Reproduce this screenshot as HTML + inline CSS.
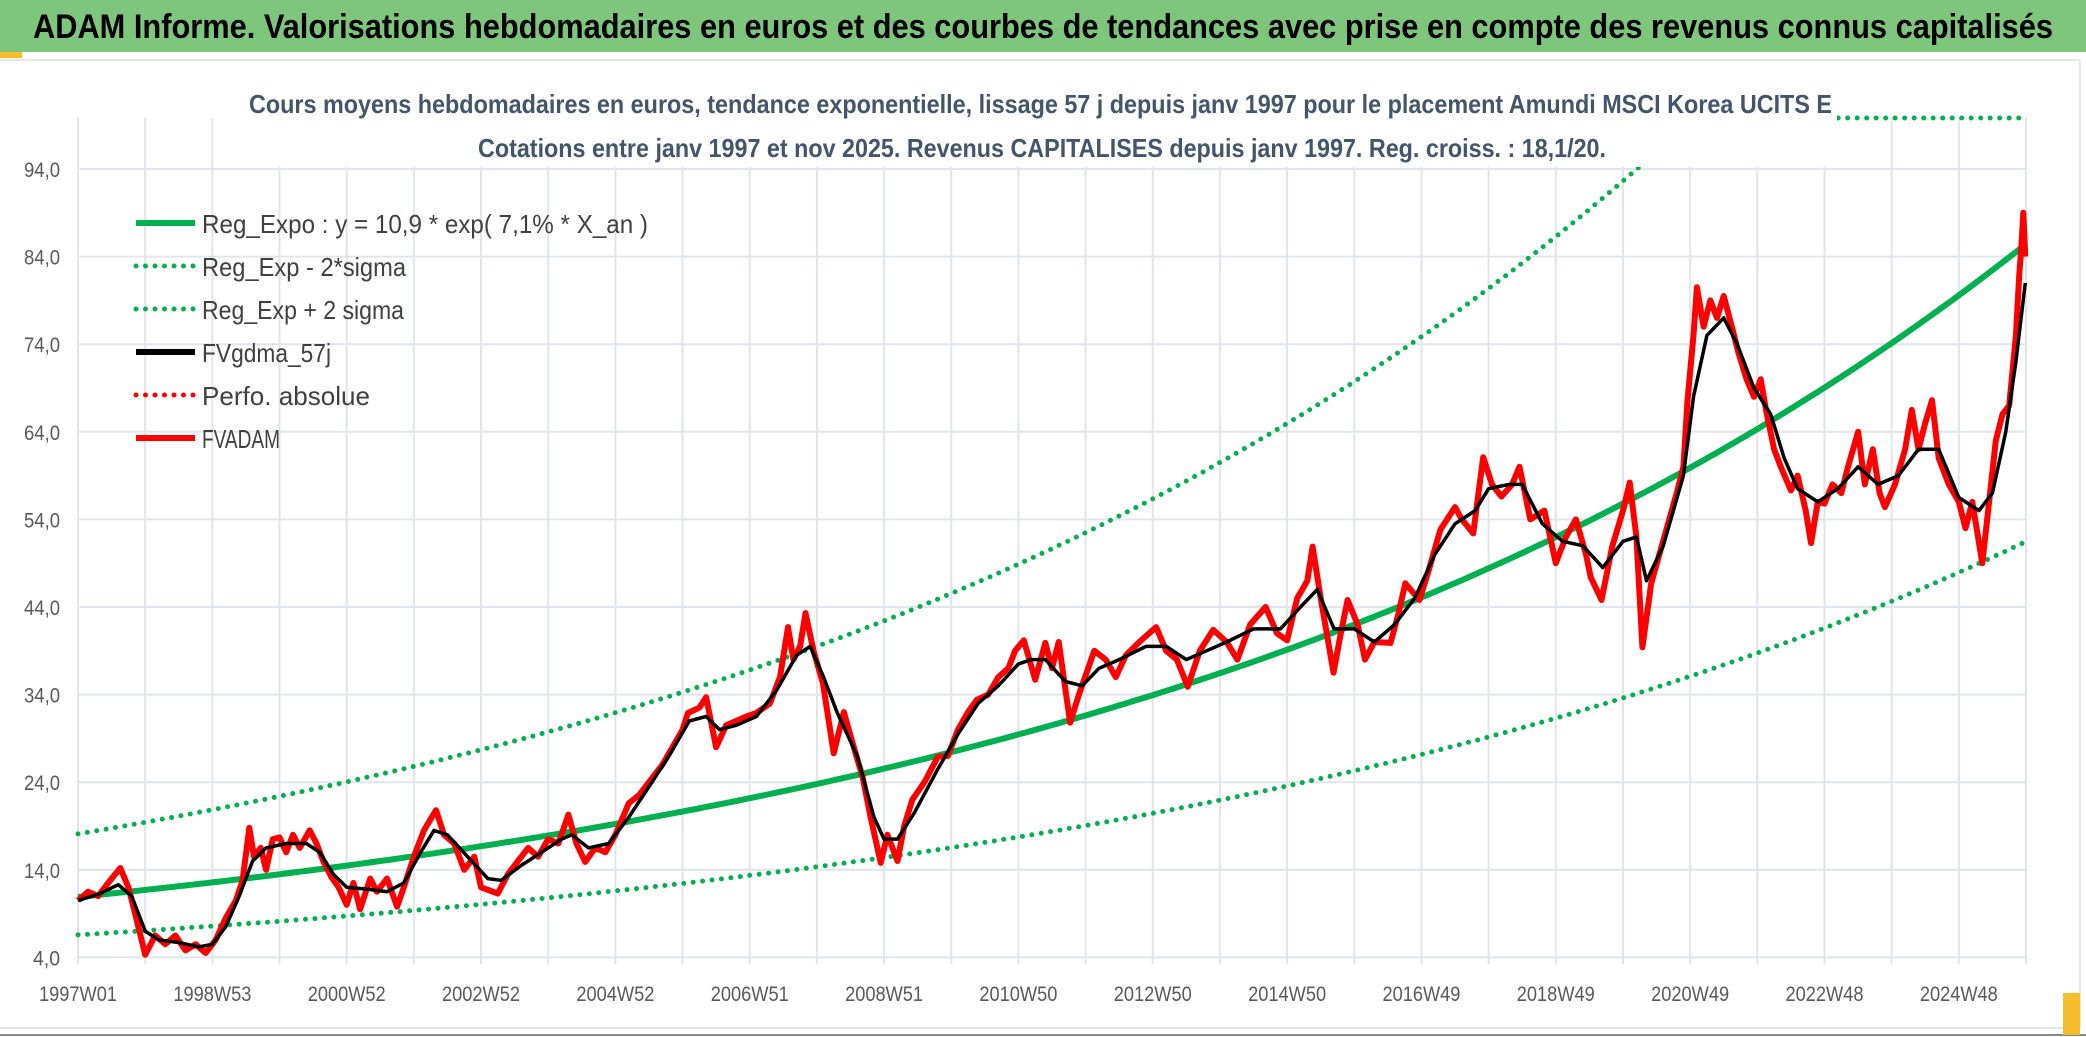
<!DOCTYPE html>
<html><head><meta charset="utf-8"><style>
html,body{margin:0;padding:0;background:#fff;}
svg{display:block;font-family:"Liberation Sans",sans-serif;}
</style></head><body>
<svg id="chart" width="2086" height="1037" viewBox="0 0 2086 1037" xmlns="http://www.w3.org/2000/svg">
<rect x="0" y="0" width="2086" height="1037" fill="#fff"/>
<rect x="0" y="0" width="2086" height="52" fill="#7DC67B"/>
<rect x="0" y="52" width="22" height="6" fill="#F5BE2A"/>
<line x1="0" y1="60" x2="2080" y2="60" stroke="#E3E6EC" stroke-width="2"/>
<line x1="2080" y1="60" x2="2080" y2="1028" stroke="#E3E6EC" stroke-width="2"/>
<line x1="0" y1="1028" x2="2080" y2="1028" stroke="#E3E6EC" stroke-width="2"/>
<line x1="0" y1="1035" x2="2086" y2="1035" stroke="#888" stroke-width="2"/>
<rect x="2063" y="993" width="17" height="42" fill="#F5BE2A"/>
<text x="33" y="38" font-size="34" font-weight="bold" fill="#000" textLength="2020" lengthAdjust="spacingAndGlyphs">ADAM Informe. Valorisations hebdomadaires en euros et des courbes de tendances avec prise en compte des revenus connus capitalisés</text>
<g id="grid"></g>
<g id="series"></g>
<rect x="245" y="86" width="1592" height="81" fill="#fff"/>
<text x="249" y="113" font-size="26" font-weight="bold" fill="#44546A" textLength="1583" lengthAdjust="spacingAndGlyphs">Cours moyens hebdomadaires en euros, tendance exponentielle, lissage 57 j depuis janv 1997 pour le placement Amundi MSCI Korea UCITS E</text>
<text x="478" y="157" font-size="26" font-weight="bold" fill="#44546A" textLength="1128" lengthAdjust="spacingAndGlyphs">Cotations entre janv 1997 et nov 2025. Revenus CAPITALISES depuis janv 1997. Reg. croiss. : 18,1/20.</text>
<g id="legend"></g>
</svg>
<script>
// ---- data ----
const yTicks = [4,14,24,34,44,54,64,74,84,94];
const xLabels = ["1997W01","1998W53","2000W52","2002W52","2004W52","2006W51","2008W51","2010W50","2012W50","2014W50","2016W49","2018W49","2020W49","2022W48","2024W48"];
const xLabelYears = [0,2,4,6,8,10,12,14,16,18,20,22,24,26,28];
const trendParams = [10.9, 0.071];
const bandFactor = [1.66];
const redT = [0,0.15,0.3,0.45,0.63,0.75,0.85,1.0,1.15,1.3,1.45,1.6,1.75,1.9,2.05,2.2,2.35,2.45,2.55,2.62,2.72,2.8,2.9,3.0,3.1,3.2,3.3,3.45,3.55,3.65,3.77,3.88,4.0,4.1,4.2,4.35,4.45,4.6,4.75,4.85,5.0,5.15,5.33,5.45,5.6,5.75,5.9,6.0,6.25,6.4,6.55,6.7,6.85,7.0,7.15,7.3,7.42,7.55,7.7,7.85,8.0,8.2,8.35,8.55,8.7,8.85,9.0,9.08,9.25,9.35,9.5,9.65,9.8,9.95,10.1,10.3,10.45,10.57,10.65,10.75,10.83,10.95,11.09,11.25,11.4,11.55,11.68,11.8,11.95,12.05,12.2,12.3,12.42,12.6,12.8,12.95,13.1,13.25,13.38,13.55,13.7,13.85,13.95,14.08,14.25,14.4,14.5,14.6,14.77,14.9,15.13,15.3,15.45,15.6,15.8,16.05,16.2,16.36,16.52,16.7,16.9,17.1,17.26,17.45,17.68,17.85,18.0,18.15,18.3,18.38,18.5,18.69,18.8,18.9,19.05,19.16,19.3,19.54,19.65,19.76,19.97,20.1,20.28,20.5,20.6,20.77,20.92,21.05,21.19,21.35,21.46,21.62,21.83,22.0,22.15,22.3,22.45,22.52,22.68,22.84,23.0,23.1,23.2,23.29,23.42,23.63,23.8,23.9,23.96,24.05,24.1,24.2,24.3,24.4,24.5,24.62,24.72,24.84,24.95,25.05,25.13,25.25,25.35,25.5,25.6,25.72,25.8,25.9,26.0,26.12,26.25,26.35,26.5,26.6,26.72,26.82,26.9,27.05,27.2,27.3,27.4,27.5,27.6,27.7,27.85,28.0,28.1,28.2,28.35,28.45,28.55,28.65,28.75,28.85,28.9,28.93,28.96,28.99];
const redV = [10.5,11.5,11,12.5,14.2,12,9,4.3,6.5,5.5,6.5,4.8,5.5,4.5,6,8.5,10.5,12.8,18.8,15.5,16.5,14,17.5,17.7,16,18,16.5,18.5,17,15,13.2,12,10,12.5,9.5,13,11.5,13,9.8,12,15.5,18.5,20.8,18,17,14,15.5,12,11.3,13.5,15,16.5,15.5,17.5,17,20.3,17,14.9,16.5,16,18,21.6,22.5,24.5,26,28,30,31.9,32.5,33.7,28,30.5,31,31.5,31.9,33,36,41.7,38,39.5,43.3,39,35.3,27.3,32,28,24.6,20,14.8,18,15,19,22,24,26.9,27,30,32,33.4,34,36,37,39,40.2,35.7,39.9,37,40,30.8,34,39,38,36,38.5,40,41.7,39,38,34.9,39,41.4,40,38,42,44,41,40.2,45,47,50.9,45,36.5,41,44.8,42,38,40,39.9,43,46.7,44.8,48,52.8,55.4,54,52.4,61.1,58,56.6,58,60,54,55,49,52,54,50,47.4,44.8,50.9,55,58.2,52,39.4,46.7,52.4,57,60,67.6,75,80.5,76,79,77,79.5,76,73,70,68,70,66.5,62,60,57.3,59,55,51.3,56,55.8,58,57,60,64,58,62,57,55.4,58,62,66.5,62,65,67.6,61,58,56,53,56,49,56,63,66,67,75,82,85,89,84];
const blackT = [0,0.3,0.6,0.8,1.0,1.2,1.5,1.8,2.0,2.2,2.4,2.6,2.8,3.1,3.4,3.6,3.8,4.0,4.3,4.6,4.85,5.1,5.3,5.5,5.8,6.1,6.3,6.6,6.9,7.2,7.35,7.6,7.9,8.2,8.5,8.8,9.1,9.35,9.55,9.8,10.1,10.4,10.7,10.9,11.1,11.3,11.6,11.85,12.0,12.2,12.45,12.8,13.1,13.4,13.7,14.0,14.2,14.4,14.7,14.95,15.2,15.5,15.9,16.2,16.5,16.8,17.1,17.5,17.9,18.2,18.45,18.7,19.0,19.3,19.6,19.9,20.2,20.5,20.8,21.0,21.3,21.5,21.8,22.1,22.4,22.7,23.0,23.2,23.35,23.6,23.9,24.05,24.25,24.5,24.7,24.95,25.2,25.4,25.6,25.9,26.2,26.5,26.8,27.1,27.4,27.7,28.0,28.3,28.5,28.7,28.85,28.99];
const blackV = [10.5,11.2,12.3,11,7,6,5.7,5.2,5.5,7.5,11,15,16.5,17,17,16,13.5,12,11.8,11.5,12.5,16,18.5,18,15.5,13,12.8,14.5,16,17.5,18,16.5,17,20,23.5,27,31,31.5,30,30.5,31.5,34.5,38.5,39.5,36,32,27,20,17.5,17.5,20.5,25.5,29.5,33,35,37.5,38,38,35.5,35,37,38,39.5,39.5,38,39,40,41.5,41.5,44,46,41.5,41.5,40,42,45,50,53.5,55,57.5,58,58,53.5,51.5,51,48.5,51.5,52,47,51,59,68,75,77,74,69,66,61,57.5,56,57.5,60,58,59,62,62,56.5,55,57,64,72,81];

// ---- axes ----
const X0 = 78, X1 = 2026, TMAX = 29;
const YTOP = 118, Y94 = 169, PX10 = 87.6;
function sx(t){ return X0 + t*(X1-X0)/TMAX; }
function sy(v){ return Y94 + (94 - v)*PX10/10; }
const NS = "http://www.w3.org/2000/svg";
function mk(tag, attrs, parent){ const e=document.createElementNS(NS,tag); for(const k in attrs) e.setAttribute(k,attrs[k]); parent.appendChild(e); return e; }

const grid = document.getElementById('grid');
for(let i=0;i<=TMAX;i++){
  const x = sx(i);
  const gl = mk('line',{x1:x,y1:YTOP,x2:x,y2:sy(4)+7,stroke:'#E1E4EA','stroke-width':2},grid);
  
  
}
yTicks.forEach(v=>{
  const y = sy(v);
  const gl = mk('line',{x1:X0,y1:y,x2:X1,y2:y,stroke:'#E1E4EA','stroke-width':2},grid);
  
  
  const txt = v.toFixed(1).replace('.',',');
  const tl = mk('text',{x:60,y:y+8,'font-size':21,fill:'#595959','text-anchor':'end',textLength:txt.length>3?36:27,lengthAdjust:'spacingAndGlyphs'},grid);
  tl.textContent = txt;
  
  
});
xLabels.forEach((lab,i)=>{
  const tl = mk('text',{x:sx(xLabelYears[i]),y:1001,'font-size':21,fill:'#595959','text-anchor':'middle',textLength:78,lengthAdjust:'spacingAndGlyphs'},grid);
  tl.textContent = lab;
  
  
});

// ---- series ----
const ser = document.getElementById('series');
const defs = mk('defs',{},ser);
const cp = mk('clipPath',{id:'plotclip'},defs);
mk('rect',{x:X0-5,y:YTOP-4,width:X1-X0+12,height:sy(4)-YTOP+10},cp);
const g = mk('g',{'clip-path':'url(#plotclip)'},ser);
function trendAt(t){ return trendParams[0]*Math.exp(trendParams[1]*t); }
function curvePath(fn){ let d=''; for(let i=0;i<=290;i++){ const t=i/10; let v=fn(t); let y=Math.max(sy(v),YTOP); d+=(i?'L':'M')+sx(t).toFixed(1)+' '+y.toFixed(1);} return d; }
const up = mk('path',{d:curvePath(t=>trendAt(t)*bandFactor[0]),fill:'none',stroke:'#00B050','stroke-width':5,'stroke-linecap':'round','stroke-dasharray':'0 9.5'},g);


const lo = mk('path',{d:curvePath(t=>trendAt(t)/bandFactor[0]),fill:'none',stroke:'#00B050','stroke-width':5,'stroke-linecap':'round','stroke-dasharray':'0 9.5'},g);


const tr = mk('path',{d:curvePath(trendAt),fill:'none',stroke:'#00B050','stroke-width':6}, g);


function linePath(ts,vs){ return ts.map((t,i)=>(i?'L':'M')+sx(t).toFixed(1)+' '+sy(vs[i]).toFixed(1)).join(''); }
const rl = mk('path',{d:linePath(redT,redV),fill:'none',stroke:'#FF0000','stroke-width':6,'stroke-linejoin':'round'},g);


const bl = mk('path',{d:linePath(blackT,blackV),fill:'none',stroke:'#000','stroke-width':3.5,'stroke-linejoin':'round'},g);



// ---- legend ----
const legendNames = ["Reg_Expo : y = 10,9 * exp( 7,1% *  X_an )","Reg_Exp - 2*sigma","Reg_Exp + 2 sigma","FVgdma_57j","Perfo. absolue","FVADAM"];
const legendLens = [446,204,202,129,168,78];
const legendColors = ['#00B050','#00B050','#00B050','#000','#FF0000','#FF0000'];
const legendDotted = [false,true,true,false,true,false];
const lg = document.getElementById('legend');
legendNames.forEach((n,i)=>{
  const y = 223 + i*43;
  const ln = mk('line',{x1:136,y1:y,x2:195,y2:y,stroke:legendColors[i],'stroke-width':legendDotted[i]?5:6,'stroke-linecap':legendDotted[i]?'round':'butt'},lg);
  if(legendDotted[i]) ln.setAttribute('stroke-dasharray','0 9.5');
  
  
  const tx = mk('text',{x:202,y:y+10,'font-size':26,fill:'#404040',textLength:legendLens[i],lengthAdjust:'spacingAndGlyphs'},lg);
  tx.textContent = n;
  
  
});
</script>
</body></html>
